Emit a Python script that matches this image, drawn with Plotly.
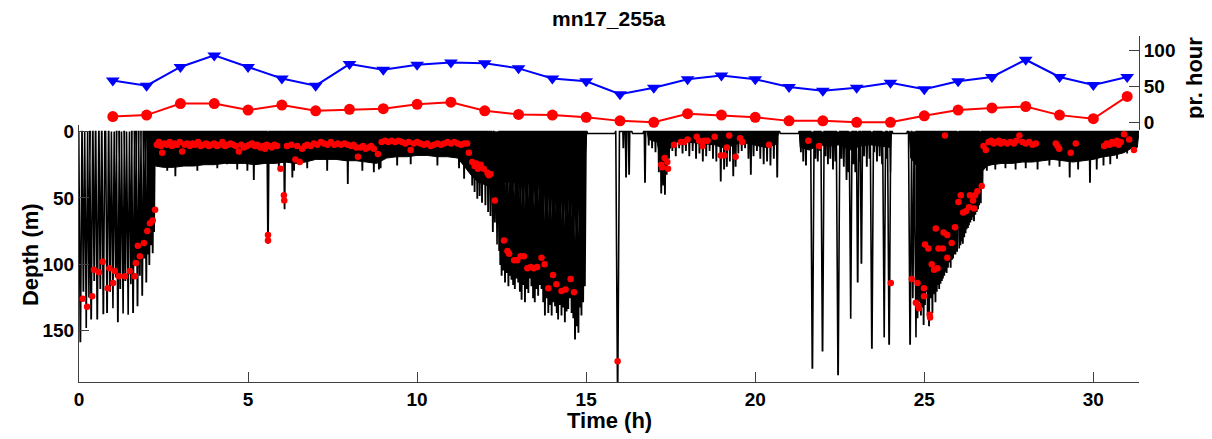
import plotly.graph_objects as go

# ---------------- hourly rates (top panel) ----------------
hours = list(range(1, 32))
rate_blue = [58, 51, 77, 93, 77, 61, 51, 81, 73, 80, 83, 82, 75, 61, 57, 39,
             48, 60, 65, 60, 49, 44, 48, 55, 46, 57, 63, 87, 63, 52, 63]
rate_red = [8, 10, 26, 26, 17, 24, 16, 18, 19, 25, 28, 16, 11, 10, 7, 2,
            0, 12, 10, 7, 2, 2, 0, 0, 9, 17, 20, 22, 10, 5, 36]

# ---------------- dense dive bouts: lower edge of black band (h, m) ----------------
bandBC_t = [2.22, 2.26, 2.5, 2.8, 3.1, 3.4, 3.7, 4.0, 4.3, 4.6, 4.9, 5.2, 5.5, 5.8, 6.1, 6.4,
            6.7, 7.0, 7.3, 7.6, 7.9, 8.2, 8.5, 8.8, 9.1, 9.4, 9.7, 10.0, 10.3, 10.6, 10.9,
            11.2, 11.45, 11.6, 11.8, 12.0, 12.2, 12.4, 12.6, 13.0, 13.5, 14.0, 14.5, 14.8,
            14.95, 15.02]
bandBC_d = [0, 26, 27, 27, 26, 26, 25, 25, 24, 24, 24, 25, 24, 24, 23, 24,
            23, 21, 21, 21, 22, 22, 23, 24, 20, 19, 19, 18, 18, 19, 19,
            20, 28, 33, 38, 40, 42, 40, 38, 38, 40, 42, 42, 40,
            30, 0]
bandE_t = [16.8, 16.85, 17.1, 17.18, 17.25, 17.35, 17.45, 17.6, 18.0, 18.4, 18.8, 19.0,
           19.3, 19.6, 20.0, 20.3, 20.6, 20.7]
bandE_d = [0, 6, 8, 20, 28, 26, 14, 8, 8, 9, 10, 12, 11, 8, 10, 12, 10, 0]
bandH_t = [21.3, 21.33, 21.6, 21.9, 22.2, 22.5, 22.8, 23.1, 23.4, 23.7, 24.0, 24.03]
bandH_d = [0, 12, 14, 10, 11, 10, 14, 11, 10, 11, 12, 0]
bandFG_t = [24.55, 24.6, 24.9, 25.2, 25.5, 25.8, 26.1, 26.4, 26.6, 26.75, 26.85, 27.0, 27.3,
            27.6, 27.9, 28.2, 28.5, 28.8, 29.1, 29.4, 29.7, 30.0, 30.3, 30.6, 30.9, 31.1,
            31.3, 31.35]
bandFG_d = [0, 20, 30, 35, 38, 38, 36, 34, 32, 29, 26, 25, 24, 24, 23, 23, 22, 21, 22, 23,
            22, 21, 19, 18, 16, 13, 12, 0]

# ---------------- individual dives: time of deepest point (h), max depth (m) ----------------
dive_t = [
    # deep bout 0-2.2 h
    0.04, 0.13, 0.21, 0.29, 0.36, 0.45, 0.54, 0.63, 0.72, 0.83, 0.92, 1.0, 1.08, 1.15, 1.22,
    1.30, 1.37, 1.45, 1.53, 1.6, 1.67, 1.73, 1.8, 1.87, 1.93, 1.99, 2.04, 2.08, 2.13, 2.18, 2.22,
    # shallow bout teeth 2.2-11.5 h
    2.61, 2.85, 3.5, 4.09, 4.38, 4.68, 4.98, 5.17, 5.59, 5.91, 6.08, 6.31, 6.36, 6.75, 7.34,
    7.95, 8.38, 8.72, 8.87, 8.92, 9.41, 9.81, 10.6, 11.24, 11.39,
    # deep bout 11.6-15 h
    11.63, 11.7, 11.78, 11.85, 11.92, 12.02, 12.1, 12.17, 12.24, 12.3, 12.36, 12.42, 12.46,
    12.5, 12.55, 12.6, 12.65, 12.7, 12.75, 12.79, 12.84, 12.89, 12.94, 12.99,
    13.04, 13.09, 13.14, 13.19, 13.24, 13.29, 13.34, 13.38, 13.43, 13.48, 13.53, 13.58,
    13.63, 13.68, 13.73, 13.78, 13.83, 13.88, 13.93, 13.98, 14.03, 14.08, 14.13, 14.17,
    14.22, 14.27, 14.32, 14.37, 14.42, 14.47, 14.52, 14.57, 14.62, 14.67, 14.72, 14.77,
    14.82, 14.86, 14.91, 14.96,
    # single deep dive
    15.93,
    # 16-20.7 h
    16.1, 16.18, 16.27, 16.74, 16.85, 16.95, 17.05, 17.15, 17.22, 17.28, 17.33, 17.38, 17.45,
    17.55, 17.65, 17.75, 17.85, 17.95, 18.05, 18.15, 18.25, 18.35, 18.45, 18.55, 18.65, 18.75,
    18.85, 18.98, 19.08, 19.16, 19.25, 19.35, 19.42, 19.5, 19.6, 19.7, 19.8, 19.87, 19.95,
    20.05, 20.15, 20.25, 20.35, 20.45, 20.55, 20.65,
    # 21.3-24 h
    21.35, 21.42, 21.5, 21.57, 21.69, 21.78, 21.85, 21.92, 21.99, 22.08, 22.15, 22.22, 22.3,
    22.37, 22.45, 22.55, 22.62, 22.7, 22.76, 22.82, 22.9, 22.96, 23.03, 23.1, 23.14, 23.22,
    23.3, 23.38, 23.45, 23.52, 23.6, 23.68, 23.75, 23.81, 23.88, 23.96, 24.0,
    # deep bout 24.5-26.7 h
    24.58, 24.66, 24.75, 24.8, 24.84, 24.9, 24.94, 24.98, 25.02, 25.06, 25.1, 25.14, 25.2,
    25.24, 25.29, 25.33, 25.37, 25.4, 25.44, 25.48, 25.52, 25.55, 25.59, 25.62, 25.66,
    25.7, 25.74, 25.78, 25.82, 25.85, 25.89, 25.92, 25.97, 26.03, 26.07, 26.1, 26.14,
    26.18, 26.22, 26.25, 26.29, 26.32, 26.36, 26.4, 26.44, 26.47, 26.51, 26.55, 26.59,
    26.62, 26.67, 26.72,
    # shallow bout teeth 26.8-31.3 h
    26.85, 27.1, 27.4, 27.7, 28.0, 28.35, 28.7, 29.0, 29.3, 29.55, 29.9, 30.1, 30.3, 30.5,
    30.7, 31.0, 31.2,
]
dive_d = [
    158, 120, 148, 125, 141, 112, 141, 118, 137, 136, 120, 133, 110, 143, 118,
    137, 112, 138, 115, 136, 100, 131, 108, 123, 95, 113, 92, 100, 85, 91, 75,
    29, 33, 29, 27, 24, 28, 29, 36, 84, 28, 58, 34, 29, 27, 29,
    39, 29, 30, 28, 27, 25, 24, 25, 27, 35,
    40, 45, 50, 48, 53, 55, 60, 63, 75, 68, 85, 90, 100,
    108, 104, 113, 106, 116, 108, 111, 115, 118, 110, 113,
    120, 126, 115, 128, 118, 121, 110, 116, 125, 128, 118, 123,
    115, 118, 128, 138, 125, 136, 130, 138, 128, 131, 136, 141,
    130, 138, 132, 143, 135, 133, 125, 136, 140, 156, 146, 151,
    132, 138, 128, 116,
    195,
    12, 34, 32, 38, 10, 12, 15, 30, 46, 40, 47, 32, 20,
    14, 18, 12, 16, 14, 18, 14, 20, 16, 22, 18, 14, 20,
    22, 37, 28, 26, 22, 33, 26, 16, 14, 12, 20, 32, 18,
    14, 20, 24, 22, 25, 20, 34,
    15, 22, 25, 12, 178, 20, 22, 14, 165, 18, 24, 20, 28,
    22, 183, 20, 26, 36, 30, 141, 24, 30, 113, 22, 99, 18,
    26, 20, 163, 15, 22, 18, 24, 155, 20, 160, 30,
    160, 125, 155, 140, 128, 138, 132, 145, 130, 120, 138, 146, 125,
    136, 122, 128, 120, 115, 118, 114, 112, 110, 108, 105, 106,
    102, 98, 102, 96, 95, 92, 92, 90, 88, 85, 82, 84,
    79, 76, 73, 72, 70, 68, 66, 64, 67, 62, 60, 58,
    55, 54, 40,
    29, 28, 27, 28, 27, 28, 25, 26, 34, 28, 38, 28, 25, 24,
    20, 16, 15,
]

# long surface intervals (start h, end h)
surf_start = [15.02, 16.35, 20.72, 24.05]
surf_end = [15.87, 16.7, 21.3, 24.5]

# ---------------- red events (h, m) ----------------
evt_t = [
    0.11, 0.24, 0.39, 0.44, 0.59, 0.70, 0.85, 0.90, 1.01, 1.06, 1.18, 1.36, 1.50, 1.65, 1.68,
    1.74, 1.80, 1.92, 2.02, 2.10, 2.18, 2.25,
    2.30, 2.36, 2.42, 2.46, 2.52, 2.6, 2.68, 2.75, 2.82, 2.9, 2.98, 3.05, 3.12, 3.2, 3.28,
    3.36, 3.44, 3.52, 3.6, 3.68, 3.76, 3.84, 3.92, 4.0, 4.08, 4.16, 4.24, 4.32, 4.4, 4.48,
    4.56, 4.64, 4.73, 4.8, 4.88, 4.96, 5.04, 5.12, 5.2, 5.28, 5.36, 5.44, 5.5, 5.55, 5.59,
    5.59, 5.63, 5.7, 5.78, 5.86, 5.96, 6.06, 6.07, 6.15, 6.28, 6.4, 6.45, 6.53, 6.6, 6.68,
    6.75, 6.85, 6.95, 7.05, 7.15, 7.25, 7.35, 7.45, 7.55, 7.65, 7.75, 7.85, 7.95, 8.05,
    8.12, 8.2, 8.25, 8.32, 8.4, 8.48, 8.56, 8.64, 8.72, 8.84, 8.95, 9.05, 9.15, 9.25, 9.35,
    9.45, 9.55, 9.65, 9.75, 9.81, 9.9, 10.0, 10.1, 10.2, 10.3, 10.4, 10.5, 10.6, 10.7, 10.8,
    10.9, 11.0, 11.1, 11.2, 11.3, 11.4,
    11.48, 11.53, 11.63, 11.7, 11.75, 11.8, 11.88, 11.97, 12.08, 12.12, 12.17, 12.3, 12.57,
    12.67, 12.72, 12.87, 12.96, 13.06, 13.16, 13.26, 13.36, 13.45, 13.55, 13.68, 13.77,
    13.88, 14.02, 14.12, 14.27, 14.39, 14.54, 14.64,
    15.93,
    17.22, 17.25, 17.32, 17.4, 17.42, 17.6, 17.8, 17.9, 18.0, 18.27, 18.34, 18.44, 18.5,
    18.59, 18.8, 18.98, 19.08, 19.16, 19.23, 19.42, 19.55, 19.62, 20.41, 21.57, 21.89,
    24.01, 24.63, 24.75, 24.8, 24.82, 24.84, 24.99, 24.99, 25.02, 25.12, 25.16, 25.17, 25.22,
    25.29, 25.34, 25.39, 25.42, 25.55, 25.57, 25.61, 25.68, 25.68, 25.81, 25.91, 26.01,
    26.08, 26.15, 26.23, 26.32, 26.35, 26.44, 26.47, 26.5, 26.57, 26.7,
    26.75, 26.82, 26.9, 26.98, 27.05, 27.12, 27.2, 27.26, 27.35, 27.45, 27.55, 27.65, 27.72,
    27.81, 27.9, 28.0, 28.1, 28.2, 28.3, 28.89, 28.94, 28.99, 29.33, 29.48, 30.32, 30.4,
    30.48, 30.55, 30.62, 30.7, 30.75, 30.81, 30.91, 31.06, 31.2,
]
evt_d = [
    126, 132, 124, 104, 106, 98, 118, 103, 114, 105, 109, 109, 105, 109, 99,
    86, 94, 84, 75, 69, 67, 59,
    10, 8, 11, 16, 9, 10, 8, 11, 9, 10, 8, 15, 10, 9, 11,
    9, 10, 8, 11, 10, 9, 11, 10, 9, 11, 10, 8, 11, 10, 9,
    10, 11, 15, 10, 12, 11, 10, 9, 11, 10, 12, 11, 13, 10, 78,
    82, 11, 12, 10, 11, 28, 48, 52, 11, 10, 21, 11, 23, 13, 11,
    10, 11, 9, 10, 8, 9, 10, 8, 10, 9, 10, 9, 10, 11,
    10, 12, 19, 12, 11, 13, 12, 11, 13, 17, 8, 7, 8, 7, 8,
    7, 8, 9, 8, 14, 9, 8, 9, 10, 9, 11, 10, 9, 10, 9,
    8, 9, 8, 9, 10, 9,
    9, 16, 23, 26, 24, 28, 25, 28, 31, 33, 32, 52, 82,
    90, 92, 97, 97, 94, 94, 103, 102, 103, 102, 95, 100,
    118, 108, 115, 120, 119, 111, 121,
    173,
    25, 27, 20, 23, 28, 10, 8, 8, 6, 4, 7, 11, 7,
    7, 4, 18, 18, 12, 3, 19, 5, 8, 10, 7, 11,
    114, 111, 129, 114, 131, 133, 118, 124, 85, 88, 138, 140, 100,
    104, 73, 103, 88, 88, 76, 3, 78, 95, 84, 72, 53,
    48, 61, 60, 57, 48, 52, 58, 48, 45, 41,
    11, 14, 8, 7, 9, 8, 7, 9, 8, 9, 8, 9, 7,
    3, 8, 9, 8, 10, 9, 9, 11, 13, 16, 9, 11, 9,
    10, 8, 9, 7, 10, 8, 2, 6, 14,
]

T_MAX = 31.35
SURF = 1.5

# ---------------- build the dive profile from the dive list ----------------
events = [(t, 0, d) for t, d in zip(dive_t, dive_d)]
events += [(s, 1, e) for s, e in zip(surf_start, surf_end)]
events.sort()
prof_x, prof_y = [0.0], [0.0]
for t, kind, v in events:
    if kind == 0:
        hw = 0.012 + 0.00022 * v
        prof_x += [t - hw, t - 0.004, t + 0.004, t + hw]
        prof_y += [0, v, v, 0]
    else:
        prof_x += [t, t + 0.02, v - 0.02, v]
        prof_y += [0, SURF, SURF, 0]
prof_x.append(T_MAX)
prof_y.append(0)

fig = go.Figure()

for bt, bd in [(bandBC_t, bandBC_d), (bandE_t, bandE_d), (bandH_t, bandH_d), (bandFG_t, bandFG_d)]:
    fig.add_trace(go.Scatter(x=bt, y=bd, mode="lines", fill="toself", fillcolor="black",
                             line=dict(color="black", width=1), hoverinfo="skip",
                             showlegend=False, xaxis="x", yaxis="y"))

fig.add_trace(go.Scatter(x=prof_x, y=prof_y, mode="lines", line=dict(color="black", width=1.6),
                         showlegend=False, xaxis="x", yaxis="y"))

fig.add_trace(go.Scatter(x=evt_t, y=evt_d, mode="markers",
                         marker=dict(color="#ff0000", size=6.5, line=dict(width=0)),
                         showlegend=False, xaxis="x", yaxis="y"))

fig.add_trace(go.Scatter(x=hours, y=rate_blue, mode="lines+markers",
                         line=dict(color="#0000ff", width=2),
                         marker=dict(symbol="triangle-down", size=12, color="#0000ff"),
                         showlegend=False, xaxis="x2", yaxis="y2", cliponaxis=False))
fig.add_trace(go.Scatter(x=hours, y=rate_red, mode="lines+markers",
                         line=dict(color="#ff0000", width=2),
                         marker=dict(symbol="circle", size=11, color="#ff0000"),
                         showlegend=False, xaxis="x2", yaxis="y2", cliponaxis=False))

FONT = "Liberation Sans, Arial, Helvetica, sans-serif"
AX = "#404040"
tickfont = dict(family=FONT, size=19, color="black", weight="bold")

# the page body adds an 8 px margin, so the figure is 8 px smaller on each side
fig.update_layout(
    width=1204, height=431,
    margin=dict(l=71, r=73, t=28, b=57, autoexpand=False),
    paper_bgcolor="white", plot_bgcolor="rgba(0,0,0,0)",
    showlegend=False,
    xaxis=dict(domain=[0, 1], range=[0, T_MAX], anchor="y", automargin=False,
               tickmode="array", tickvals=[0, 5, 10, 15, 20, 25, 30],
               ticks="inside", ticklen=10, tickcolor=AX, tickwidth=1,
               showline=True, linecolor=AX, linewidth=1, mirror=False,
               showgrid=False, zeroline=False, tickfont=tickfont),
    yaxis=dict(domain=[0, 0.7428], range=[188.6, -4.9], anchor="x", automargin=False,
               tickmode="array", tickvals=[0, 50, 100, 150],
               ticks="inside", ticklen=10, tickcolor=AX, tickwidth=1,
               showline=True, linecolor=AX, linewidth=1, mirror=False,
               showgrid=False, zeroline=False, tickfont=tickfont),
    xaxis2=dict(domain=[0, 1], range=[0, T_MAX], anchor="y2", visible=False,
                automargin=False, showgrid=False, zeroline=False),
    yaxis2=dict(domain=[0.7283, 1], range=[-10.7, 120], anchor="x2", side="right",
                automargin=False,
                tickmode="array", tickvals=[0, 50, 100],
                ticks="inside", ticklen=10, tickcolor=AX, tickwidth=1,
                showline=True, linecolor=AX, linewidth=1,
                showgrid=False, zeroline=False, tickfont=tickfont),
    annotations=[
        dict(text="mn17_255a", xref="paper", yref="paper", x=0.5, y=1.052,
             xanchor="center", yanchor="middle", showarrow=False,
             font=dict(family=FONT, size=21, color="black", weight="bold")),
        dict(text="Time (h)", xref="paper", yref="paper", x=0.5, y=-0.11,
             xanchor="center", yanchor="middle", showarrow=False,
             font=dict(family=FONT, size=22, color="black", weight="bold")),
        dict(text="Depth (m)", xref="paper", yref="paper", x=-0.0462, y=0.367,
             xanchor="center", yanchor="middle", showarrow=False, textangle=-90,
             font=dict(family=FONT, size=22, color="black", weight="bold")),
        dict(text="pr. hour", xref="paper", yref="paper", x=1.053, y=0.879,
             xanchor="center", yanchor="middle", showarrow=False, textangle=-90,
             font=dict(family=FONT, size=22, color="black", weight="bold")),
    ],
)

fig.write_html("out.html")
